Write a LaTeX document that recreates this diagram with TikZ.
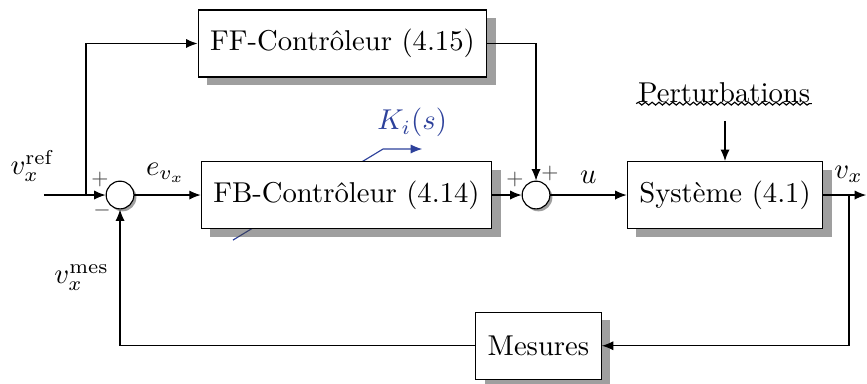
\documentclass[tikz,border=0pt]{standalone}
\usepackage{amsmath}
\usepackage{xcolor}
\usepackage{tikz}
\usetikzlibrary{arrows.meta,positioning,calc,shadows,decorations.pathmorphing}
\definecolor{kblue}{RGB}{45,65,155}

\begin{document}
\begin{tikzpicture}[
  blk/.style={draw, fill=white, minimum height=0.82cm, inner xsep=4.2pt,
    drop shadow={shadow xshift=0.11cm, shadow yshift=-0.1cm, fill=black!75, opacity=0.5}},
  sum/.style={draw, circle, fill=white, minimum size=0.34cm, inner sep=0pt,
    drop shadow={shadow xshift=0.03cm, shadow yshift=-0.03cm, fill=black!75, opacity=0.5}},
  sgn/.style={font=\scriptsize, text=black!70, inner sep=0pt},
  lbl/.style={inner sep=1pt},
  arr/.style={-{Latex[length=4pt, width=3.2pt]}}]
\useasboundingbox (0,0) rectangle (10.625,4.694);
% adjustable gain, behind the FB block
\coordinate (kin) at (2.855,1.752);
\coordinate (kbend) at (4.694,2.868);
\draw[kblue, arr] (kin) -- (kbend) -- ++(0.48,0);
\node[kblue, lbl] (kgain) at (5.05,3.19) {$K_i(s)$};
% blocks
\node[blk] (ff) at (4.197,4.161) {FF-Contrôleur (4.15)};
\node[blk] (fb) at (4.246,2.304) {FB-Contrôleur (4.14)};
\node[blk] (sys) at (8.885,2.304) {Système (4.1)};
\node[blk] (mes) at (6.599,0.457) {Mesures};
\node[sum] (s1) at (1.471,2.304) {};
\node[sum] (s2) at (6.569,2.304) {};
\node[sgn] (p1) at (1.225,2.49) {$+$};
\node[sgn] (m1) at (1.25,2.12) {$-$};
\node[sgn] (p2) at (6.311,2.49) {$+$};
\node[sgn] (p3) at (6.74,2.57) {$+$};
% inputs and outputs
\coordinate (in) at (0.539,2.304);
\coordinate (br1) at (1.054,2.304);
\coordinate (out) at (10.615,2.304);
\coordinate (br2) at (10.404,2.304);
\node[lbl] (vref) at (0.40,2.66) {$v_x^{\mathrm{ref}}$};
\node[lbl] (err) at (2.03,2.58) {$e_{v_x}$};
\node[lbl] (uin) at (7.21,2.52) {$u$};
\node[lbl] (vout) at (10.40,2.56) {$v_x$};
\node[lbl] (vmes) at (1.0,1.29) {$v_x^{\mathrm{mes}}$};
\node[lbl] (pert) at (8.873,3.56) {Perturbations};
\draw[decorate, decoration={snake, amplitude=0.5pt, segment length=2.4pt}]
  ($(pert.south west)+(0.02,0.03)$) -- ($(pert.south east)+(-0.02,0.03)$);
\coordinate (pin) at ($(sys.north|-pert.south)+(0,-0.18)$);
% connections
\draw[arr] (in) -- (s1);
\draw[arr] (br1) |- (ff);
\draw[arr] (s1) -- (fb);
\draw[arr] (fb) -- (s2);
\draw[arr] (ff) -| (s2);
\draw[arr] (s2) -- (sys);
\draw[arr] (pin) -- (sys);
\draw[arr] (sys) -- (out);
\draw[arr] (br2) |- (mes);
\draw[arr] (mes) -| (s1);
\end{tikzpicture}
\end{document}
